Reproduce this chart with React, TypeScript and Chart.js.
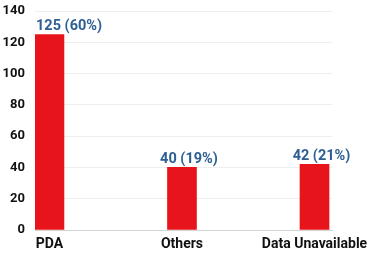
import React, { useEffect, useRef } from "react";
import { Chart, registerables } from "chart.js";

Chart.register(...registerables);

const categories = ["PDA", "Others", "Data Unavailable"];
const counts = [125, 40, 42];
const percents = [60, 19, 21];
const yTicks = [0, 20, 40, 60, 80, 100, 120, 140];

const labelPlugin = {
  id: "barValueLabels",
  afterDatasetsDraw(chart: any) {
    const ctx = chart.ctx;
    const meta = chart.getDatasetMeta(0);
    const area = chart.chartArea;
    ctx.save();
    ctx.font = "bold 14.5px Roboto";
    ctx.fillStyle = "#2d5f93";
    ctx.textBaseline = "alphabetic";
    ctx.textAlign = "left";
    meta.data.forEach((bar: any, i: number) => {
      const text = `${counts[i]} (${percents[i]}%)`;
      const w = ctx.measureText(text).width;
      let left = bar.x + 7 - w / 2;
      if (left < area.left + 1) left = area.left + 1;
      ctx.fillText(text, left, bar.y - 4);
    });
    ctx.restore();
  },
};

export default function App() {
  const ref = useRef<HTMLCanvasElement>(null);
  useEffect(() => {
    document.body.style.margin = "0";
    const chart = new Chart(ref.current!, {
      type: "bar",
      data: {
        datasets: [
          {
            data: counts.map((v, i) => ({ x: i, y: v })),
            backgroundColor: "#e8141b",
            barThickness: 29,
          },
        ],
      },
      options: {
        animation: false,
        responsive: false,
        maintainAspectRatio: false,
        layout: { padding: { top: 11, right: 43, left: 0, bottom: 0 } },
        plugins: { legend: { display: false }, tooltip: { enabled: false } },
        scales: {
          x: {
            type: "linear",
            offset: false,
            min: -0.109,
            max: 2.132,
            grid: { display: false, drawTicks: false, offset: false },
            border: { display: true, color: "#d4d4d4", width: 1 },
            ticks: {
              stepSize: 1,
              includeBounds: false,
              autoSkip: false,
              maxRotation: 0,
              padding: 6,
              color: "#111111",
              font: { family: "Roboto", weight: "bold", size: 14 },
              callback: (v: any) => categories[v as number] ?? "",
            },
            afterFit: (s: any) => {
              s.height = 32;
              s.paddingLeft = 0;
              s.paddingRight = 0;
            },
          },
          y: {
            min: 0,
            max: 140,
            afterBuildTicks: (s: any) => {
              s.ticks = yTicks.map((v) => ({ value: v }));
            },
            grid: { color: "#eeeeee", drawTicks: false },
            border: { display: false },
            ticks: {
              padding: 10,
              color: "#111111",
              font: { family: "Roboto", weight: "bold", size: 13 },
            },
            afterFit: (s: any) => {
              s.width = 35;
              s.paddingTop = 0;
              s.paddingBottom = 0;
            },
          },
        },
      },
      plugins: [labelPlugin],
    });
    return () => chart.destroy();
  }, []);
  return (
    <div style={{ width: 375, height: 262, background: "#ffffff" }}>
      <canvas ref={ref} width={375} height={262} style={{ display: "block" }} />
    </div>
  );
}
